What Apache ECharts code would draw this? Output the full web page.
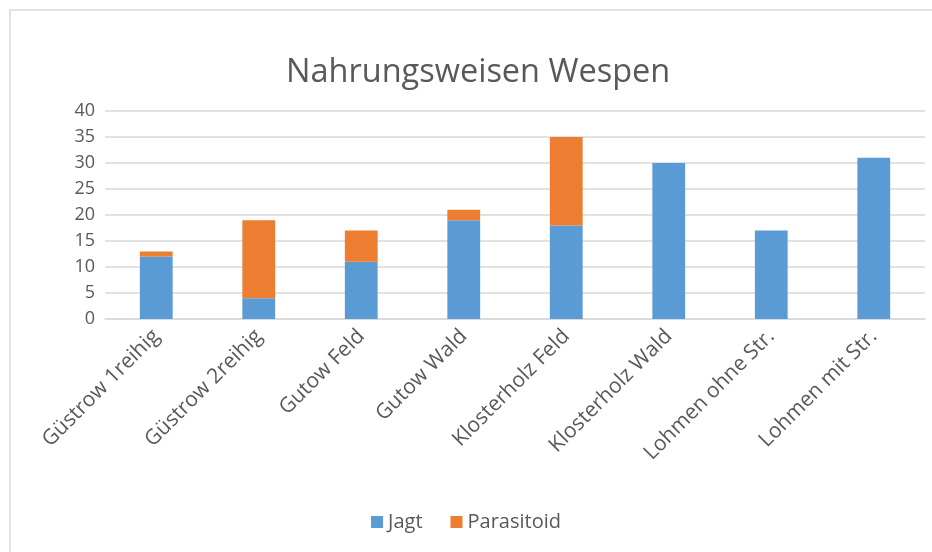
<!DOCTYPE html>
<html>
<head>
<meta charset="utf-8">
<script src="https://cdn.jsdelivr.net/npm/echarts@6/dist/echarts.min.js"></script>
<style>
  html, body { margin: 0; padding: 0; background: #fff; }
  #main { width: 932px; height: 552px; }
</style>
</head>
<body>
<div id="main"></div>
<script>
  // Daten
  var standorte = ['Güstrow 1reihig', 'Güstrow 2reihig', 'Gutow Feld', 'Gutow Wald',
    'Klosterholz Feld', 'Klosterholz Wald', 'Lohmen ohne Str.', 'Lohmen mit Str.'];
  var jagt = [12, 4, 11, 19, 18, 30, 17, 31];
  var parasitoid = [1, 15, 6, 2, 17, 0, 0, 0];

  var myChart = echarts.init(document.getElementById('main'));
  var textColor = '#595959';
  var font = 'Open Sans';

  var option = {
    animation: false,
    backgroundColor: '#fff',
    graphic: [{
      type: 'rect',
      shape: { x: 10, y: 10, width: 940, height: 560 },
      style: { fill: 'none', stroke: '#d9d9d9', lineWidth: 1.5 },
      silent: true
    }],
    title: {
      text: 'Nahrungsweisen Wespen',
      left: 281,
      top: 51,
      textStyle: { color: textColor, fontFamily: font, fontWeight: 'normal', fontSize: 32.5 }
    },
    legend: {
      bottom: 15,
      left: 'center',
      itemWidth: 12,
      itemHeight: 12,
      itemGap: 28,
      icon: 'rect',
      textStyle: { color: textColor, fontFamily: font, fontSize: 20 },
      data: ['Jagt', 'Parasitoid']
    },
    grid: { left: 105, right: 7, top: 111, bottom: 233 },
    xAxis: {
      type: 'category',
      data: standorte,
      axisLine: { lineStyle: { color: '#d9d9d9', width: 1.5 } },
      axisTick: { show: false },
      axisLabel: { rotate: 45, color: textColor, fontFamily: font, fontSize: 21, margin: 14, interval: 0 }
    },
    yAxis: {
      type: 'value',
      min: 0,
      max: 40,
      interval: 5,
      axisLine: { show: false },
      axisTick: { show: false },
      axisLabel: { color: textColor, fontFamily: font, fontSize: 18, margin: 10 },
      splitLine: { lineStyle: { color: '#d9d9d9', width: 1.5 } }
    },
    series: [
      {
        name: 'Jagt',
        type: 'bar',
        stack: 'gesamt',
        barWidth: '32%',
        itemStyle: { color: '#5b9bd5' },
        data: jagt
      },
      {
        name: 'Parasitoid',
        type: 'bar',
        stack: 'gesamt',
        itemStyle: { color: '#ed7d31' },
        data: parasitoid
      }
    ]
  };
  myChart.setOption(option);
</script>
</body>
</html>
